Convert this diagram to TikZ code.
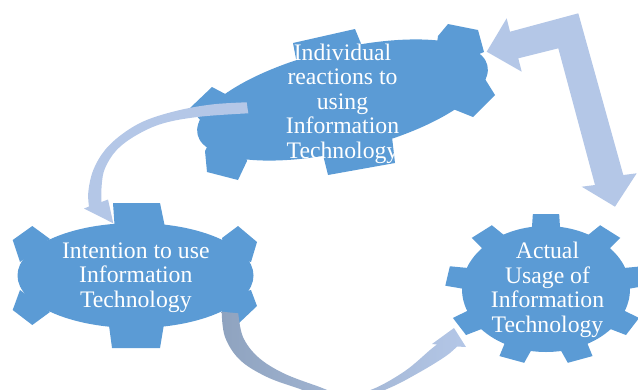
\documentclass[tikz,border=0pt]{standalone}
\usepackage{fontspec}
\setmainfont{Liberation Serif}
\definecolor{gearblue}{HTML}{5B9BD5}
\definecolor{arrowlight}{HTML}{B4C7E7}
\definecolor{arrowgrey}{HTML}{8FA3BF}
\begin{document}
\begin{tikzpicture}[x=1pt,y=-1pt,
  gear/.style={fill=gearblue},
  lightarrow/.style={fill=arrowlight},
  gtext/.style={text=white, align=center, inner sep=0pt, font=\fontsize{23.7}{24.5}\selectfont}]
\useasboundingbox (0,0) rectangle (638,389);

% ---------- left gear ----------
\fill[gear] (135.5,275.5) ellipse [x radius=118, y radius=52.5];
\fill[gear] (113,203) -- (160,203) -- (166,232) -- (115,232) -- cycle;
\fill[gear] (112,348) -- (160,348) -- (165,318) -- (108,318) -- cycle;
\fill[gear] (12.7,240) -- (32.3,226) -- (50,239) -- (20,262) -- cycle;
\fill[gear] (12.7,310) -- (32.3,325) -- (50,312) -- (20,290) -- cycle;
\fill[gear] (222,238) -- (238,226) -- (257,242) -- (251,262) -- (225,255) -- cycle;
\fill[gear] (222,312) -- (238,324) -- (257,306) -- (251,290) -- (225,297) -- cycle;

% ---------- top gear ----------
\fill[gear, rotate around={13.5:(342.5,100)}] (342.5,100) ellipse [x radius=149, y radius=51];
\fill[gear] (190,108) -- (212,87) -- (231,97) -- (201,121) -- cycle;
\fill[gear] (208,145) -- (205,151) -- (207,172) -- (238,180) -- (247,161) -- (245,152) -- cycle;
\fill[gear] (293,43) -- (355,29) -- (362,46) -- (340,60) -- (297,64) -- cycle;
\fill[gear] (438,36) -- (448,24) -- (478,30) -- (484,52) -- (460,62) -- (436,50) -- cycle;
\fill[gear] (485,79) -- (495,95) -- (473,117) -- (453,109) -- (470,90) -- cycle;
\fill[gear] (323,155) -- (328,175) -- (395,163) -- (392,137) -- (360,145) -- cycle;

% ---------- right gear ----------
\begin{scope}[shift={(546,289)}, xscale=84, yscale=-63]
  \fill[gear] (0,0) circle [radius=1];
  \foreach \a in {90,50,10,-30,-70,-110,-150,170,130}
    \fill[gear] (\a-11:0.9) -- (\a-7.5:1.2) -- (\a+7.5:1.2) -- (\a+11:0.9) -- cycle;
\end{scope}

% ---------- texts ----------
\node[gtext] (reac) at (342.5,103.5) {Individual\\reactions to\\using\\Information\\Technology};
\node[gtext] (inte) at (135.8,277.3) {Intention to use\\Information\\Technology};
\node[gtext] (usag) at (547.5,290) {Actual\\Usage of\\Information\\Technology};

% ---------- arrow: reactions -> intention ----------
\coordinate (aAs) at (246.7,102.3);
\coordinate (aAt) at (113.3,223.3);
\fill[lightarrow] (aAs) -- plot[smooth, tension=0.6] coordinates {(246.7,102.3) (213.3,104.3) (180,110) (146.7,120) (123.3,133.3) (105,150) (93.3,170) (88.3,191.7) (89,206.5)}
  -- (84,208.5) -- (aAt) -- (108,199.5)
  -- plot[smooth, tension=0.6] coordinates {(101.5,202) (101.7,185) (105,168.3) (116.7,150) (136.7,135) (163.3,123.3) (200,116.7) (248.3,113.3)} -- cycle;

% ---------- arrow: intention -> usage ----------
\coordinate (aBs) at (221.7,311.7);
\coordinate (aBt) at (454,328);
\shade[left color=arrowgrey, right color=arrowlight] (aBs)
  -- plot[smooth, tension=0.6] coordinates {(221.7,311.7) (225,337) (240,360) (267,377) (300,389) (343,404) (387,389) (420,372) (446,356) (457,346.5)}
  -- (466,347) -- (aBt) -- (432,344)
  -- plot[smooth, tension=0.6] coordinates {(437,344.5) (430,350) (405,371) (373,389) (345,395) (317,386) (283,373) (258,357) (243,337) (238.3,313.3)} -- cycle;

% ---------- double arrow: usage <-> reactions ----------
\coordinate (aCt1) at (486.7,51.7);
\coordinate (aCt2) at (615,206.7);
\fill[lightarrow] (aCt1) -- (506.7,18.3) -- (510,31.7) -- (578.3,13.3) -- (623.3,175) -- (636.7,173.3)
  -- (aCt2) -- (581.7,186.7) -- (595,185) -- (558.3,48.3) -- (518.3,58.3) -- (521.7,71.7) -- cycle;
\end{tikzpicture}
\end{document}
